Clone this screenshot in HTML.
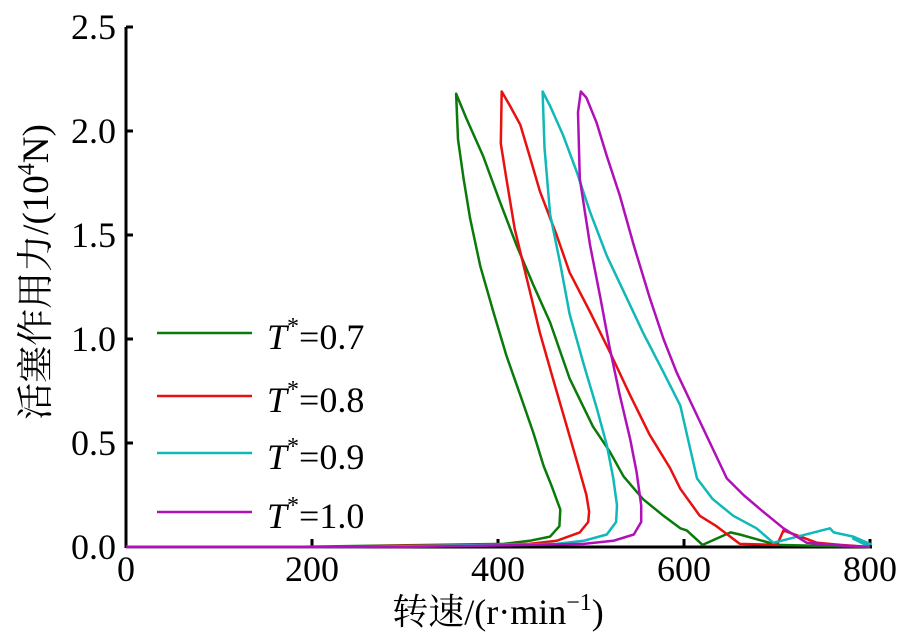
<!DOCTYPE html>
<html><head><meta charset="utf-8"><style>
html,body{margin:0;padding:0;background:#fff;}
svg{display:block;}
text{font-family:"Liberation Serif","Noto Serif CJK SC",serif;}
</style></head><body>
<svg id="chart" width="900" height="637" viewBox="0 0 900 637">
<g id="axes"></g>
<g id="series"></g>
<g id="legend"></g>
<text x="498" y="624" font-family="Liberation Serif, Noto Serif CJK SC, serif" font-size="36" text-anchor="middle">转速/(r·min<tspan font-size="24" dy="-14">−1</tspan><tspan dy="14">)</tspan></text>
<text transform="translate(48,272) rotate(-90)" font-family="Liberation Serif, Noto Serif CJK SC, serif" font-size="37" text-anchor="middle">活塞作用力/(10<tspan font-size="24" dy="-14">4</tspan><tspan dy="14">N)</tspan></text>
</svg>
<script>
const xTicks=[0,200,400,600,800];
const yTicks=[0.0,0.5,1.0,1.5,2.0,2.5];
const seriesNames=["T*=0.7","T*=0.8","T*=0.9","T*=1.0"];
const seriesColors=["#0a7a0a","#e81010","#10b8b8","#b010b8"];
const greenRpm=[0,170,406,434,456,466,467,458,449,438,424,409,395,381,370,363,357,355,366,384,402,420,438,456,477,502,520,535,556,578,596,603,620,650,660,700,800];
const greenF=[0,0,0.015,0.03,0.05,0.10,0.18,0.29,0.39,0.55,0.73,0.92,1.13,1.35,1.58,1.77,1.96,2.18,2.06,1.88,1.66,1.45,1.26,1.08,0.81,0.58,0.46,0.34,0.23,0.15,0.09,0.08,0.01,0.07,0.06,0.01,0];
const redRpm=[0,200,434,463,488,497,498,495,485,474,459,445,431,418,409,403,404,413,424,434,445,463,477,499,520,542,563,585,596,617,635,660,700,707,725,743,768,800];
const redF=[0,0,0.015,0.03,0.07,0.12,0.17,0.25,0.41,0.58,0.81,1.03,1.29,1.53,1.77,1.94,2.19,2.12,2.03,1.88,1.71,1.50,1.32,1.13,0.94,0.73,0.54,0.38,0.28,0.15,0.10,0.015,0.01,0.08,0.05,0.02,0.01,0];
const cyanRpm=[0,250,463,492,517,527,528,524,517,506,492,477,467,456,450,448,456,470,485,499,517,535,556,578,596,614,631,653,678,696,757,761,782,800,782,800];
const cyanF=[0,0,0.015,0.03,0.06,0.12,0.20,0.33,0.49,0.67,0.88,1.12,1.36,1.60,1.92,2.19,2.12,1.98,1.80,1.61,1.40,1.23,1.03,0.84,0.68,0.33,0.23,0.15,0.09,0.02,0.09,0.07,0.05,0.015,0.04,0];
const magRpm=[0,300,492,524,546,554,554,549,542,531,520,510,499,488,486,489,495,506,517,531,546,563,578,592,646,664,685,707,732,760,800];
const magF=[0,0,0.015,0.03,0.06,0.12,0.20,0.36,0.52,0.73,0.96,1.20,1.45,1.77,2.09,2.19,2.16,2.04,1.88,1.69,1.45,1.20,1.00,0.84,0.33,0.25,0.17,0.09,0.02,0.01,0];
const allRpm=[greenRpm,redRpm,cyanRpm,magRpm];
const allF=[greenF,redF,cyanF,magF];
const seriesKeys=["t07","t08","t09","t10"];

const NS="http://www.w3.org/2000/svg";
const FF="Liberation Serif, Noto Serif CJK SC, serif";
const X0=126,X1=870,Y0=547,Y1=27;
function sx(v){return X0+(v-0)/(800-0)*(X1-X0);}
function sy(v){return Y0-(v-0)/(2.5-0)*(Y0-Y1);}
function mk(tag,attrs,parent){const e=document.createElementNS(NS,tag);for(const k in attrs)e.setAttribute(k,attrs[k]);parent.appendChild(e);return e;}
const axes=document.getElementById('axes');
let el=mk('line',{x1:X0,y1:Y0,x2:X1+2,y2:Y0,stroke:'#000','stroke-width':3},axes);


el=mk('line',{x1:X0,y1:Y0+1,x2:X0,y2:Y1,stroke:'#000','stroke-width':3},axes);


xTicks.forEach(t=>{
  const tk=mk('line',{x1:sx(t),y1:Y0,x2:sx(t),y2:Y0-8,stroke:'#000','stroke-width':3},axes);
  
  
  const tx=mk('text',{x:sx(t),y:Y0+34,'font-size':36,'font-family':FF,'text-anchor':'middle'},axes);
  tx.textContent=String(t);
  
  
});
yTicks.forEach(t=>{
  const tk=mk('line',{x1:X0,y1:sy(t),x2:X0+7,y2:sy(t),stroke:'#000','stroke-width':3},axes);
  
  
  const tx=mk('text',{x:X0-10,y:sy(t)+12,'font-size':36,'font-family':FF,'text-anchor':'end'},axes);
  tx.textContent=t.toFixed(1);
  
  
});
const sg=document.getElementById('series');
allRpm.forEach((xs,i)=>{
  const ys=allF[i];
  const d=xs.map((x,j)=>(j?'L':'M')+sx(x).toFixed(1)+','+sy(ys[j]).toFixed(1)).join(' ');
  const p=mk('path',{d:d,fill:'none',stroke:seriesColors[i],'stroke-width':2.5,'stroke-linejoin':'round'},sg);
  
  
});
const lg=document.getElementById('legend');
const legY=[333,396,453,512];
seriesNames.forEach((n,i)=>{
  const g=mk('g',{},lg);
  
  
  mk('line',{x1:157,y1:legY[i],x2:252,y2:legY[i],stroke:seriesColors[i],'stroke-width':2.5},g);
  const t=mk('text',{x:267,y:legY[i]+16,'font-size':36,'font-family':FF},g);
  t.innerHTML='<tspan font-style="italic">T</tspan><tspan font-size="24" dy="-15">*</tspan><tspan dy="15">='+n.split('=')[1]+'</tspan>';
});
</script>
</body></html>
